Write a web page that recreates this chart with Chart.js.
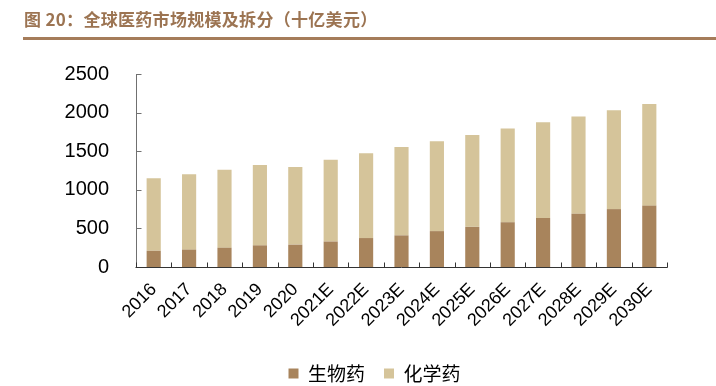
<!DOCTYPE html>
<html>
<head>
<meta charset="utf-8">
<script src="https://cdn.jsdelivr.net/npm/chart.js@4.4.0/dist/chart.umd.min.js"></script>
<style>
html,body{margin:0;padding:0;background:#fff;}
#wrap{position:relative;width:716px;height:386px;overflow:hidden;}
#title{position:absolute;left:24px;top:6px;font-family:"Noto Sans CJK SC";font-weight:bold;font-size:17px;color:#9c7452;letter-spacing:0.3px;white-space:nowrap;}
#rule{position:absolute;left:23px;top:37px;width:693px;height:3px;background:#a57c5a;}
canvas{position:absolute;left:0;top:0;}
</style>
</head>
<body>
<div id="wrap">
<canvas id="myChart" width="716" height="386"></canvas>
<div id="title">图 20：全球医药市场规模及拆分（十亿美元）</div>
<div id="rule"></div>
</div>
<script>
var years = ['2016','2017','2018','2019','2020','2021E','2022E','2023E','2024E','2025E','2026E','2027E','2028E','2029E','2030E'];
var bio = [210,225,250,280,290,330,375,410,465,520,580,635,690,750,795];
var chem = [940,975,1010,1040,1005,1060,1100,1145,1165,1190,1215,1240,1260,1280,1315];
var yTicks = [0,500,1000,1500,2000,2500];

var axisPlugin = {
  id:'axisPlugin',
  afterLayout(chart){
    // legend sits a bit right of the canvas centre in the original
    chart.legend.left += 41;
    chart.legend.right += 41;
  },
  afterDatasetsDraw(chart){
    var c = chart.ctx, x = chart.scales.x, y = chart.scales.y;
    var y0 = Math.round(y.getPixelForValue(0)) + 0.5;
    var left = Math.round(x.getPixelForValue(-0.5)) + 0.5;
    var right = Math.round(x.getPixelForValue(years.length - 0.5)) + 0.5;
    c.save();
    c.lineWidth = 1;
    // y axis with inward ticks
    c.strokeStyle = '#707070';
    c.beginPath();
    c.moveTo(left, y0);
    c.lineTo(left, Math.round(y.getPixelForValue(2500)));
    yTicks.forEach((v) => {
      var py = Math.round(y.getPixelForValue(v)) + 0.5;
      c.moveTo(left, py);
      c.lineTo(left + 5, py);
    });
    c.stroke();
    // x axis, ticks between categories
    c.strokeStyle = '#333';
    c.beginPath();
    c.moveTo(left - 1, y0);
    c.lineTo(right, y0);
    for (var i = 0; i <= years.length; i++) {
      var px = Math.round(x.getPixelForValue(i - 0.5)) + 0.5;
      c.moveTo(px, y0);
      c.lineTo(px, y0 - 5);
    }
    c.stroke();
    c.restore();
  }
};

var ctx = document.getElementById('myChart').getContext('2d');
var myChart = new Chart(ctx, {
  type:'bar',
  data:{
    labels:years,
    datasets:[{
      label:'生物药',
      data:bio,
      backgroundColor:'#a8845c',
      barPercentage:0.4,
      categoryPercentage:1
    },{
      label:'化学药',
      data:chem,
      backgroundColor:'#d5c49a',
      barPercentage:0.4,
      categoryPercentage:1
    }]
  },
  options:{
    responsive:false,
    animation:false,
    devicePixelRatio:1,
    layout:{padding:{top:74,right:49,left:0,bottom:-7}},
    plugins:{
      tooltip:{enabled:false},
      legend:{
        position:'bottom',
        labels:{
          boxWidth:10,
          boxHeight:10,
          padding:19,
          color:'#000',
          font:{family:'"Noto Sans CJK SC"',size:19}
        }
      }
    },
    scales:{
      x:{
        stacked:true,
        offset:true,
        grid:{display:false},
        border:{display:false},
        ticks:{
          minRotation:45,
          maxRotation:45,
          padding:4,
          color:'#000',
          font:{family:'"Liberation Sans", Arial',size:18}
        },
        afterFit(s){ s.height = 78; }
      },
      y:{
        stacked:true,
        min:0,
        max:2500,
        grid:{display:false},
        border:{display:false},
        ticks:{
          stepSize:500,
          padding:19,
          color:'#000',
          font:{family:'"Liberation Sans", Arial',size:20},
          callback:(v) => String(v)
        },
        afterFit(s){ s.width = 136; }
      }
    }
  },
  plugins:[axisPlugin]
});
</script>
</body>
</html>
